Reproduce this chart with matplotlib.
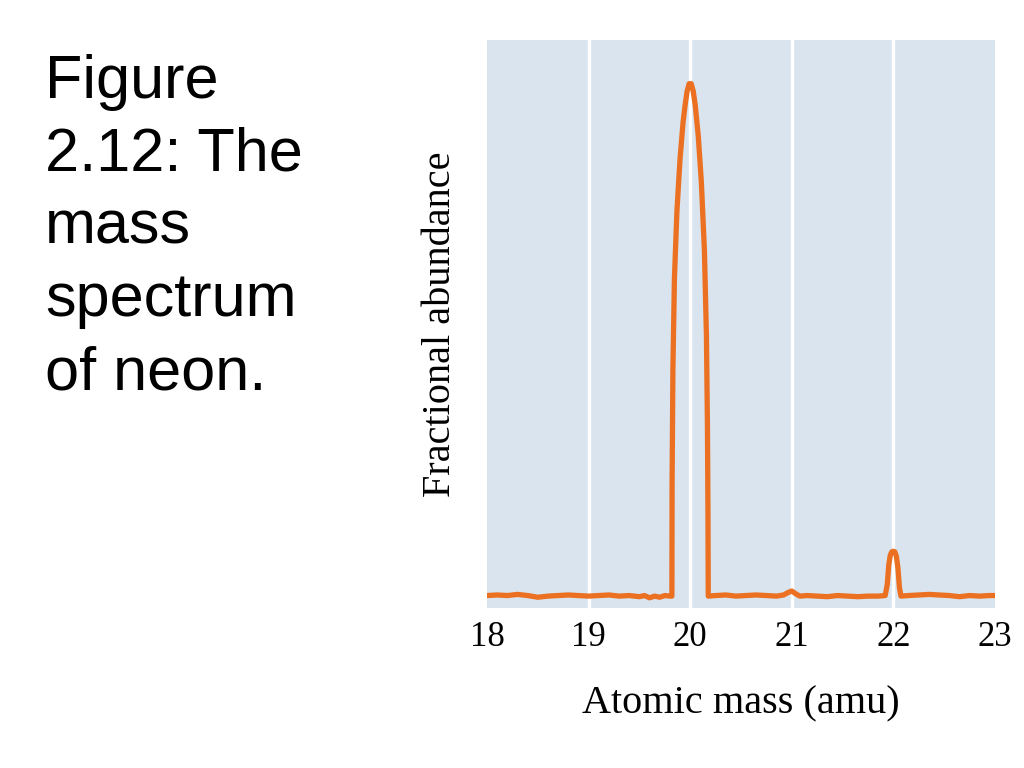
import numpy as np
import matplotlib.pyplot as plt

# masa atomica (amu) y abundancia fraccional
masa = [18.0, 18.1, 18.2, 18.3, 18.4, 18.5, 18.6, 18.7, 18.8, 18.9, 19.0,
        19.1, 19.2, 19.3, 19.4, 19.5, 19.55, 19.6, 19.65, 19.7, 19.75, 19.8,
        19.82, 19.822, 19.83, 19.845, 19.87, 19.9, 19.93, 19.95, 19.97, 19.99,
        20.01, 20.03, 20.05, 20.08, 20.11, 20.14, 20.16, 20.17, 20.175,
        20.178,
        20.25, 20.35, 20.45, 20.55, 20.65, 20.75, 20.85, 20.92, 20.96, 21.0,
        21.04, 21.08, 21.15, 21.25, 21.35, 21.45, 21.55, 21.65, 21.75, 21.85,
        21.92, 21.94, 21.955, 21.97, 21.985, 22.0, 22.015, 22.03, 22.045,
        22.06, 22.075, 22.15, 22.25, 22.35, 22.45, 22.55, 22.65, 22.75,
        22.85, 22.95, 23.0]
abundancia = [0.001, 0.002, 0.001, 0.003, 0.001, -0.002, 0.0, 0.001, 0.002,
              0.001, 0.0, 0.001, 0.002, 0.0, 0.001, -0.001, 0.001, -0.003,
              0.0, -0.002, 0.001, 0.0,
              0.0, 0.2, 0.4, 0.56, 0.68, 0.77, 0.835, 0.865, 0.89, 0.903,
              0.903, 0.89, 0.865, 0.81, 0.73, 0.61, 0.46, 0.30, 0.15, 0.0,
              0.001, 0.002, 0.0, 0.001, 0.002, 0.001, 0.0, 0.002, 0.006, 0.009,
              0.004, 0.0, 0.001, 0.0, -0.001, 0.001, 0.0, -0.001, 0.0, 0.0,
              0.001, 0.02, 0.055, 0.072, 0.078, 0.079, 0.078, 0.07, 0.05,
              0.015, 0.0, 0.001, 0.002, 0.003, 0.002, 0.001, -0.001, 0.001,
              0.0, 0.001, 0.001]

ticks_x = [18, 19, 20, 21, 22, 23]
rejilla = [19, 20, 21, 22]

fig = plt.figure(figsize=(10.24, 7.68), dpi=100)

# texto de la izquierda
fig.text(0.044, 0.93, "Figure\n2.12: The\nmass\nspectrum\nof neon.",
         family="Liberation Sans", fontsize=44, va="top", ha="left",
         linespacing=1.36)

ax = fig.add_axes([0.4756, 0.2083, 0.496, 0.7396])
ax.set_facecolor("#d9e4ef")
for g in rejilla:
    ax.axvline(g, color="white", lw=2.5, zorder=1)

ax.plot(masa, abundancia, color="#ec7022", lw=3.8, solid_capstyle="round",
        solid_joinstyle="round", zorder=3)

ax.set_xlim(18, 23)
ax.set_ylim(-0.021, 0.98)
ax.set_xticks(ticks_x)
ax.set_xticklabels([str(t) for t in ticks_x], family="Liberation Serif",
                   fontsize=25)
ax.set_yticks([])
ax.tick_params(axis="x", length=0, pad=9)
for s in ax.spines.values():
    s.set_visible(False)

ax.set_xlabel("Atomic mass (amu)", family="Liberation Serif", fontsize=29,
              labelpad=23)
ax.set_ylabel("Fractional abundance", family="Liberation Serif", fontsize=29,
              labelpad=20)

fig.savefig("out.png", dpi=100)
